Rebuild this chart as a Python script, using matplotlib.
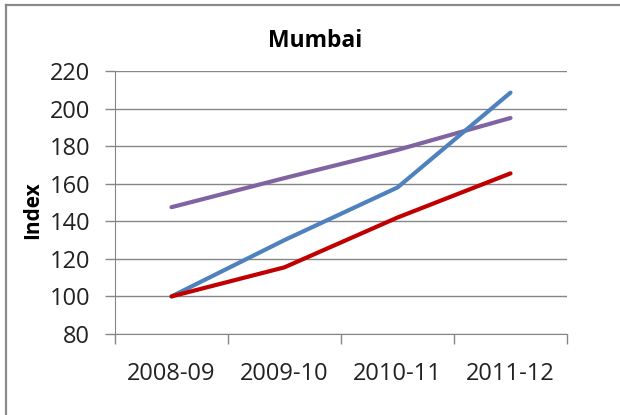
import matplotlib
matplotlib.use("Agg")
import matplotlib.pyplot as plt
from matplotlib.lines import Line2D

years = ["2008-09", "2009-10", "2010-11", "2011-12"]

blue_series = [100, 130, 158, 208.5]
red_series = [100, 115.5, 142, 165.5]
purple_series = [147.5, 163, 178, 195]

y_ticks = [80, 100, 120, 140, 160, 180, 200, 220]


def main():
    plt.rcParams['font.family'] = ['Open Sans', 'DejaVu Sans']

    fig = plt.figure(figsize=(6.2, 4.15), dpi=100)
    ax = fig.add_axes([115 / 620, 1 - 334 / 415, 452 / 620, 263 / 415])

    x = list(range(len(years)))
    ax.plot(x, purple_series, color='#8064A2', lw=3, solid_capstyle='round', zorder=3)
    ax.plot(x, blue_series, color='#4F81BD', lw=3, solid_capstyle='round', zorder=4)
    ax.plot(x, red_series, color='#C00000', lw=3, solid_capstyle='round', zorder=5)

    grey = '#868686'
    ax.set_xlim(-0.5, len(years) - 0.5)
    ax.set_ylim(80, 220)
    ax.set_yticks(y_ticks)
    ax.grid(axis='y', color=grey, lw=1)
    ax.set_axisbelow(True)

    # category boundaries get the tick marks, labels sit between them
    ax.set_xticks([i - 0.5 for i in range(len(years) + 1)])
    ax.set_xticklabels([])
    ax.set_xticks(x, minor=True)
    ax.set_xticklabels(years, minor=True)
    ax.tick_params(axis='x', which='major', length=7, color=grey, width=1)
    ax.tick_params(axis='x', which='minor', length=0, pad=20, labelsize=17, labelcolor='#222222')
    ax.tick_params(axis='y', length=7, color=grey, width=1, pad=11, labelsize=17, labelcolor='#222222')

    for side in ['top', 'right']:
        ax.spines[side].set_visible(False)
    ax.spines['left'].set_color(grey)
    ax.spines['bottom'].set_color(grey)

    # title is centred on the whole chart box, not on the plot area
    fig.text(315 / 620, 1 - 41 / 415, 'Mumbai', fontsize=16.5, fontweight='bold',
             ha='center', va='center')
    ax.set_ylabel('Index', fontsize=15, fontweight='bold')
    ax.yaxis.set_label_coords(-0.158, 0.47)

    # outer chart frame (only left and top edges visible)
    fx = 6 / 620
    fy = 1 - 5 / 415
    fig.add_artist(Line2D([fx, fx], [0, fy], color='#8a8a8a', lw=1.6, transform=fig.transFigure))
    fig.add_artist(Line2D([fx, 1], [fy, fy], color='#8a8a8a', lw=1.6, transform=fig.transFigure))

    fig.savefig('out.png', dpi=100)


if __name__ == '__main__':
    main()
